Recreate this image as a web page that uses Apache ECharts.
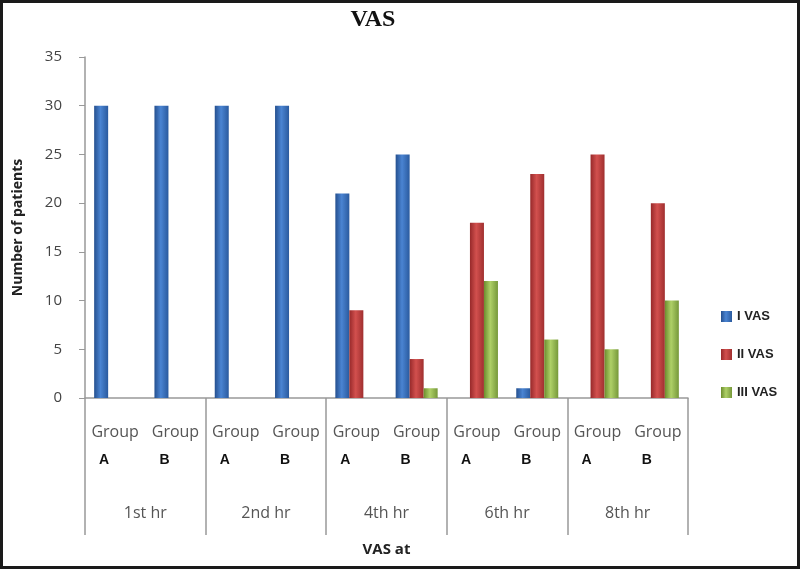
<!DOCTYPE html>
<html>
<head>
<meta charset="utf-8">
<script src="https://cdn.jsdelivr.net/npm/echarts@6/dist/echarts.min.js"></script>
<style>
    html, body { margin: 0; padding: 0; background: #fff; }
    #chart { width: 800px; height: 569px; box-sizing: border-box; border: 3px solid #1a1a1a; }
</style>
</head>
<body>
<div id="chart"></div>
<script>
// tick labels
var groups = ['A', 'B', 'A', 'B', 'A', 'B', 'A', 'B', 'A', 'B'];
var hours = ['1st hr', '2nd hr', '4th hr', '6th hr', '8th hr'];
var seriesNames = ['I VAS', 'II VAS', 'III VAS'];
// number of patients per group
var vas1 = [30, 30, 30, 30, 21, 25, 0, 1, 0, 0];
var vas2 = [0, 0, 0, 0, 9, 4, 18, 23, 25, 20];
var vas3 = [0, 0, 0, 0, 0, 1, 12, 6, 5, 10];

var colors = [
    ['#25508f', '#4a84d2', '#2a5a9e'],
    ['#97292a', '#d2504e', '#a02f2f'],
    ['#6c8d2e', '#aed067', '#76983a']
];

function grad(c) {
    return new echarts.graphic.LinearGradient(0, 0, 1, 0, [
        { offset: 0, color: c[0] },
        { offset: 0.45, color: c[1] },
        { offset: 1, color: c[2] }
    ]);
}

var chart = echarts.init(document.getElementById('chart'));

var option = {
    animation: false,
    title: {
        text: 'VAS',
        left: 365,
        top: 0,
        textAlign: 'center',
        textStyle: { fontFamily: 'Liberation Serif', fontWeight: 'bold', fontSize: 24, color: '#111' }
    },
    legend: {
        orient: 'vertical',
        left: 713,
        top: 302,
        itemGap: 25,
        itemWidth: 11,
        itemHeight: 11,
        icon: 'rect',
        data: seriesNames,
        textStyle: { fontFamily: 'Liberation Sans', fontWeight: 'bold', fontSize: 13, color: '#222' }
    },
    grid: { left: 80, right: 109, top: 54, bottom: 168 },
    xAxis: [
        {
            type: 'category',
            data: groups,
            axisLine: { lineStyle: { color: '#999', width: 1.5 } },
            axisTick: { show: false },
            axisLabel: {
                margin: 18,
                interval: 0,
                formatter: function (v) { return '{g|Group}\n{l|' + v + '}'; },
                rich: {
                    g: { fontFamily: 'Open Sans', fontSize: 16, color: '#555', lineHeight: 32 },
                    l: { fontFamily: 'Liberation Sans', fontWeight: 'bold', fontSize: 14, color: '#111', lineHeight: 24, padding: [0, 22, 0, 0] }
                }
            }
        },
        {
            type: 'category',
            position: 'bottom',
            data: hours,
            axisLine: { show: false },
            axisTick: { show: true, length: 137, lineStyle: { color: '#999', width: 1.5 } },
            axisLabel: { margin: 107, fontFamily: 'Open Sans', fontSize: 16, color: '#555' },
            name: 'VAS at',
            nameLocation: 'middle',
            nameGap: 144,
            nameTextStyle: { fontFamily: 'Open Sans', fontWeight: 'bold', fontSize: 15, color: '#222' }
        }
    ],
    yAxis: {
        type: 'value',
        min: 0,
        max: 35,
        interval: 5,
        splitLine: { show: false },
        axisLine: { show: true, lineStyle: { color: '#999', width: 1.5 } },
        axisTick: { show: true, length: 6, lineStyle: { color: '#999' } },
        axisLabel: { margin: 23, fontFamily: 'Open Sans', fontSize: 15, color: '#444' },
        name: 'Number of patients',
        nameLocation: 'middle',
        nameGap: 60,
        nameTextStyle: { fontFamily: 'Open Sans', fontWeight: 'bold', fontSize: 14, color: '#222' }
    },
    series: [
        { name: seriesNames[0], type: 'bar', data: vas1, barWidth: 14, barGap: '0%', itemStyle: { color: grad(colors[0]) } },
        { name: seriesNames[1], type: 'bar', data: vas2, barWidth: 14, barGap: '0%', itemStyle: { color: grad(colors[1]) } },
        { name: seriesNames[2], type: 'bar', data: vas3, barWidth: 14, barGap: '0%', itemStyle: { color: grad(colors[2]) } }
    ]
};

chart.setOption(option);
</script>
</body>
</html>
